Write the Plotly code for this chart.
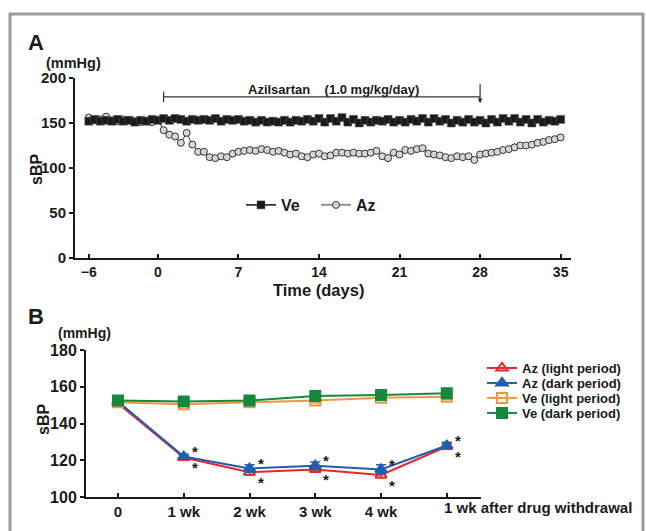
import plotly.graph_objects as go

# ---------------- Panel A data ----------------
days = [d / 2 for d in range(-12, 71)]  # -6 .. 35 every half day (light/dark)

ve_a = [
    152, 154, 152, 153, 152, 154, 152, 153, 151, 153, 152, 154, 153,
    155, 153, 155, 154, 152, 154, 153, 154, 153, 155, 152, 154, 153, 154,
    152, 153, 151, 153, 151, 152, 151, 153, 151, 153, 152, 154, 152, 155,
    151, 155, 152, 156, 151, 154, 150, 153, 151, 153, 152, 154, 151, 153,
    151, 154, 152, 155, 151, 155, 152, 154, 150, 153, 151, 154, 151, 153,
    150, 154, 151, 155, 152, 155, 151, 154, 150, 154, 151, 153, 152, 154,
]
az_a = [
    156, 153, 154, 157, 153, 152, 154, 153, 152, 151, 152, 151, 153,
    142, 137, 135, 128, 139, 126, 118, 118, 112, 111, 113, 112, 116, 118,
    119, 120, 119, 121, 120, 118, 119, 117, 115, 116, 113, 112, 115, 116,
    113, 114, 117, 117, 116, 117, 116, 116, 117, 119, 113, 111, 117, 115,
    120, 119, 121, 122, 116, 115, 114, 112, 111, 113, 112, 113, 109, 115,
    116, 117, 118, 120, 121, 123, 125, 125, 126, 128, 129, 131, 132, 134,
]
a_xticks = [-6, 0, 7, 14, 21, 28, 35]
a_yticks = [0, 50, 100, 150, 200]

# ---------------- Panel B data ----------------
b_x = [0, 1, 2, 3, 4, 5]
b_labels = ["0", "1 wk", "2 wk", "3 wk", "4 wk", "1 wk after drug withdrawal"]
az_light = [151, 121.5, 113.5, 115, 112, 127.5]
az_light_err = [1, 1.2, 1.5, 1.5, 1.5, 1.5]
az_dark = [152, 122, 115.5, 117, 115, 128]
az_dark_err = [1, 1.2, 2, 2, 2.5, 1.8]
ve_light = [151.5, 150.5, 151.5, 152.5, 154, 154.5]
ve_light_err = [1, 1, 1, 1.2, 1.5, 1.5]
ve_dark = [152.5, 152, 152.5, 155, 155.5, 156.5]
ve_dark_err = [1, 1, 1, 2, 2, 2]
b_yticks = [100, 120, 140, 160, 180]

FONT = "Liberation Sans"
W, H = 646, 531


def px(x):
    return x / W


def py(y):
    return (H - y) / H


fig = go.Figure()

# Panel A traces
fig.add_trace(go.Scatter(
    x=days, y=az_a, mode="lines+markers", name="Az",
    line=dict(color="#333333", width=1),
    marker=dict(symbol="circle", size=7, color="#d6d6d6", line=dict(color="#333333", width=1)),
    xaxis="x", yaxis="y", legend="legend", legendrank=2,
))
fig.add_trace(go.Scatter(
    x=days, y=ve_a, mode="lines+markers", name="Ve",
    line=dict(color="#111111", width=1.5),
    marker=dict(symbol="square", size=8, color="#1a1a1a", line=dict(color="#555555", width=0.5)),
    xaxis="x", yaxis="y", legend="legend", legendrank=1,
))

# Panel B traces (each in its own legend box to control row spacing)
def err(v, col):
    return dict(type="data", array=v, visible=True, thickness=1.5, width=5, color=col)

b_series = [
    ("Az (light period)", az_light, az_light_err, "#e8262e", "triangle-up-open"),
    ("Az (dark period)", az_dark, az_dark_err, "#1f5fae", "triangle-up"),
    ("Ve (light period)", ve_light, ve_light_err, "#f3953f", "square-open"),
    ("Ve (dark period)", ve_dark, ve_dark_err, "#138a3e", "square"),
]
legend_rows = [368, 383, 398, 413]
for k, (name, vals, e, col, sym) in enumerate(b_series):
    fig.add_trace(go.Scatter(
        x=b_x, y=vals, mode="lines+markers", name=name,
        line=dict(color=col, width=2),
        marker=dict(symbol=sym, size=10, color=col, line=dict(color=col, width=2)),
        error_y=err(e, col), xaxis="x2", yaxis="y2", legend=f"legend{k + 2}",
    ))


def axis(**kw):
    base = dict(
        showgrid=False, zeroline=False, showline=True, linecolor="#1a1a1a", linewidth=2,
        ticks="outside", ticklen=4, tickwidth=1.5, tickcolor="#1a1a1a", automargin=False,
    )
    base.update(kw)
    return base


legends = {}
for k, yrow in enumerate(legend_rows):
    legends[f"legend{k + 2}"] = dict(
        x=px(482), y=py(yrow), xanchor="left", yanchor="middle",
        font=dict(family=FONT, size=13, weight="bold"), bgcolor="rgba(0,0,0,0)",
    )

fig.update_layout(
    width=W, height=H,
    margin=dict(l=0, r=0, t=0, b=0, pad=0, autoexpand=False),
    paper_bgcolor="white", plot_bgcolor="white",
    font=dict(family=FONT, color="#1a1a1a", weight="bold"),
    xaxis=axis(
        domain=[px(75), px(571)], range=[-7.2, 35.9],
        tickvals=a_xticks, ticks="inside",
        tickfont=dict(family=FONT, size=14, weight="bold"),
        anchor="y",
    ),
    yaxis=axis(
        domain=[py(258), py(78)], range=[0, 200],
        tickvals=a_yticks, tickfont=dict(family=FONT, size=15, weight="bold"),
        anchor="x",
    ),
    xaxis2=axis(
        domain=[px(86), px(481)], range=[-0.486, 5.52],
        tickvals=b_x, ticktext=b_labels[:-1] + [""], ticks="inside",
        tickfont=dict(family=FONT, size=15, weight="bold"),
        anchor="y2",
    ),
    yaxis2=axis(
        domain=[py(497), py(350)], range=[100, 180],
        tickvals=b_yticks, tickfont=dict(family=FONT, size=16, weight="bold"),
        anchor="x2",
    ),
    legend=dict(
        orientation="h", x=px(241), y=py(205), xanchor="left", yanchor="middle",
        font=dict(family=FONT, size=16, weight="bold"), bgcolor="rgba(0,0,0,0)",
        entrywidth=30, entrywidthmode="pixels", traceorder="normal",
    ),
    showlegend=True,
    **legends,
)

# Frame
fig.add_shape(type="rect", xref="paper", yref="paper",
              x0=px(10), x1=px(643), y0=-0.05, y1=py(14),
              line=dict(color="#9b9b9b", width=3), layer="below")

# Treatment bracket in panel A
fig.add_shape(type="line", xref="x", yref="y", x0=0.5, x1=28, y0=179, y1=179,
              line=dict(color="#333333", width=1.2))
fig.add_shape(type="line", xref="x", yref="y", x0=0.5, x1=0.5, y0=173, y1=185,
              line=dict(color="#333333", width=1.2))
fig.add_annotation(xref="x", yref="y", x=28, y=172, ax=28, ay=195, axref="x", ayref="y",
                   showarrow=True, arrowhead=2, arrowsize=0.8, arrowwidth=1.2,
                   arrowcolor="#333333", text="")
fig.add_annotation(xref="x", yref="y", x=15.3, y=187, text="Azilsartan    (1.0 mg/kg/day)",
                   showarrow=False, font=dict(family=FONT, size=13, weight="bold"))
fig.add_annotation(xref="x", yref="y", x=29.8, y=206, text="Withdrawal",
                   showarrow=False, font=dict(family=FONT, size=13, weight="bold"))

# Labels
texts = [
    ("A", 36, 43, 22, 0),
    ("B", 36, 316, 22, 0),
    ("(mmHg)", 73, 63, 14.5, 0),
    ("(mmHg)", 84, 333, 14, 0),
    ("sBP", 36, 170, 16, -90),
    ("sBP", 43, 420, 16, -90),
    ("Time (days)", 318, 290, 16.5, 0),
]
for t, x, y, s, ang in texts:
    fig.add_annotation(xref="paper", yref="paper", x=px(x), y=py(y), text=t,
                       showarrow=False, textangle=ang, xanchor="center", yanchor="middle",
                       font=dict(family=FONT, size=s, weight="bold", color="#1a1a1a"))

# Last tick label of panel B, left aligned at its tick
fig.add_annotation(xref="x2", yref="paper", x=4.92, y=py(507), text=b_labels[-1],
                   showarrow=False, xanchor="left", yanchor="middle",
                   font=dict(family=FONT, size=15, weight="bold", color="#1a1a1a"))

# Significance asterisks
for i in b_x[1:]:
    fig.add_annotation(xref="x2", yref="y2", x=i + 0.17, y=az_dark[i] + 4.5, text="*",
                       showarrow=False, yshift=-3,
                       font=dict(family=FONT, size=15, weight="bold", color="#1a1a1a"))
    fig.add_annotation(xref="x2", yref="y2", x=i + 0.17, y=az_light[i] - 4, text="*",
                       showarrow=False, yshift=-3,
                       font=dict(family=FONT, size=15, weight="bold", color="#1a1a1a"))

fig.write_html(
    "out.html",
    config={"displayModeBar": False},
    post_script=(
        "var d=document.getElementById('{plot_id}');"
        "d.style.position='absolute';d.style.top='0px';d.style.left='0px';"
        "document.body.style.margin='0';document.body.style.padding='0';"
        "document.body.style.overflow='hidden';"
    ),
)
